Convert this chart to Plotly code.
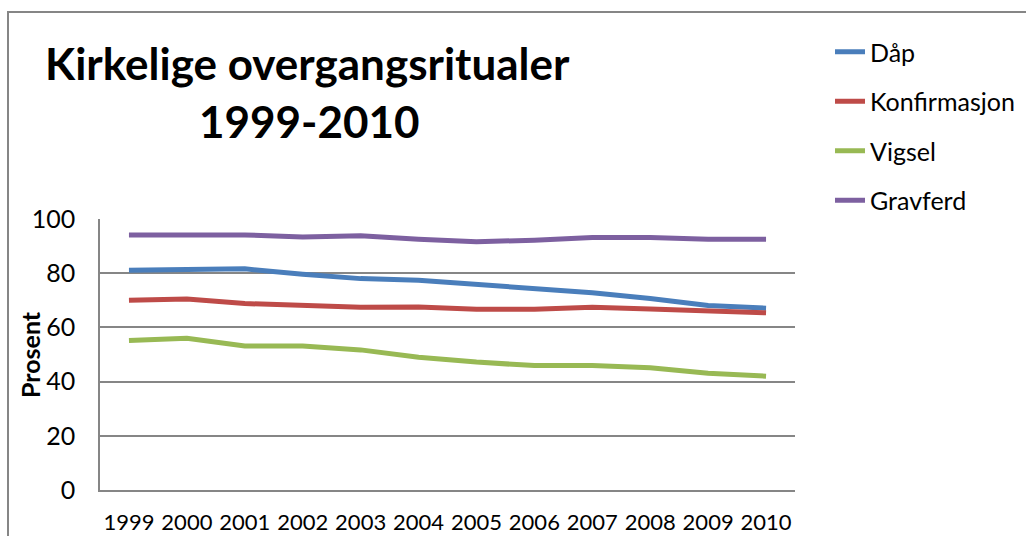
import plotly.graph_objects as go

years = ["1999", "2000", "2001", "2002", "2003", "2004", "2005", "2006", "2007", "2008", "2009", "2010"]
dap = [81.1, 81.2, 81.6, 79.6, 78.0, 77.4, 75.9, 74.1, 72.8, 70.7, 68.1, 67.1]
konfirmasjon = [70.0, 70.5, 68.8, 68.1, 67.4, 67.5, 66.7, 66.7, 67.4, 66.8, 66.3, 65.4]
vigsel = [55.2, 56.0, 53.1, 53.1, 51.7, 49.0, 47.2, 45.9, 45.9, 45.1, 43.1, 42.0]
gravferd = [94.1, 94.3, 94.1, 93.4, 93.8, 92.5, 91.6, 92.2, 93.2, 93.2, 92.5, 92.5]

series_names = ["Dåp", "Konfirmasjon", "Vigsel", "Gravferd"]
series_values = [dap, konfirmasjon, vigsel, gravferd]
series_colors = ["#4A7EBB", "#BE4B48", "#98B954", "#7D60A0"]

W, H = 1026, 536
L, R, T, B = 100, 795, 219, 490

def px(x):
    return (x - L) / (R - L)

def py(y):
    return (B - y) / (B - T)

FONT = "Lato"
GRID = "#868686"

fig = go.Figure()
for i, (name, vals, col) in enumerate(zip(series_names, series_values, series_colors)):
    fig.add_trace(go.Scatter(
        x=years, y=vals, name=name, mode="lines",
        line=dict(color=col, width=5),
        legendgroup=f"g{i}",
    ))

fig.update_layout(
    width=W, height=H,
    margin=dict(l=L, r=W - R, t=T, b=H - B, pad=0, autoexpand=False),
    paper_bgcolor="white", plot_bgcolor="white",
    font=dict(family=FONT, size=22, color="black"),
    showlegend=True,
    legend=dict(
        x=px(830), y=py(29), xanchor="left", yanchor="top",
        font=dict(family=FONT, size=25, color="black"),
        tracegroupgap=14, traceorder="grouped",
        bgcolor="rgba(0,0,0,0)", itemwidth=30,
    ),
    xaxis=dict(
        type="category", range=[-0.5, 11.5], automargin=False,
        showgrid=False, showline=True, linecolor=GRID, linewidth=1.5,
        ticks="", tickfont=dict(family=FONT, size=22, color="black"),
        ticklabelstandoff=12, zeroline=False,
    ),
    yaxis=dict(
        range=[0, 100], dtick=20, tick0=0, automargin=False,
        showgrid=True, gridcolor=GRID, gridwidth=1.5,
        showline=True, linecolor=GRID, linewidth=1.5,
        ticks="", tickfont=dict(family=FONT, size=25, color="black"),
        ticklabelstandoff=18, zeroline=False,
    ),
    shapes=[dict(
        type="rect", xref="paper", yref="paper",
        x0=px(8), x1=px(1030), y0=py(545), y1=py(12),
        line=dict(color=GRID, width=2), fillcolor="rgba(0,0,0,0)", layer="below",
    )],
    annotations=[
        dict(text="<b>Kirkelige overgangsritualer</b>", xref="paper", yref="paper",
             x=px(307), y=py(63), xanchor="center", yanchor="middle", showarrow=False,
             font=dict(family=FONT, size=44, color="black")),
        dict(text="<b>1999-2010</b>", xref="paper", yref="paper",
             x=px(309), y=py(121), xanchor="center", yanchor="middle", showarrow=False,
             font=dict(family=FONT, size=44, color="black")),
        dict(text="<b>Prosent</b>", xref="paper", yref="paper",
             x=px(30), y=py(355), xanchor="center", yanchor="middle", showarrow=False,
             textangle=-90, font=dict(family=FONT, size=25, color="black")),
    ],
)

fig.write_html("out.html", config={"displayModeBar": False},
               post_script="document.body.style.margin='0';document.body.style.overflow='hidden';")
